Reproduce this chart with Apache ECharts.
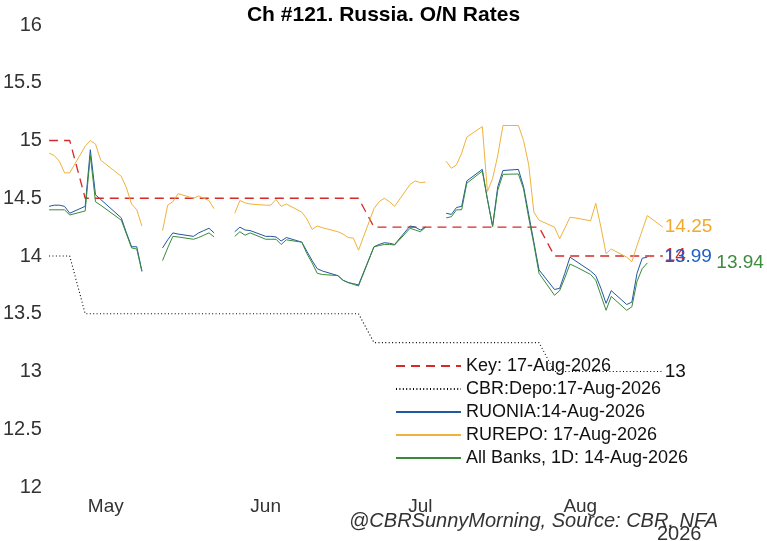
<!DOCTYPE html>
<html>
<head>
<meta charset="utf-8">
<title>Ch #121. Russia. O/N Rates</title>
<script src="https://cdn.jsdelivr.net/npm/echarts@6/dist/echarts.min.js"></script>
<style>
    html, body {margin: 0; padding: 0; background: #fff;}
    #chart {width: 767px; height: 541px;}
</style>
</head>
<body>
<div id="chart"></div>
<script>
// business days shown on the chart
var dates = [
    '2026-04-20', '2026-04-21', '2026-04-22', '2026-04-23', '2026-04-24',
    '2026-04-27', '2026-04-28', '2026-04-29', '2026-04-30',
    '2026-05-04', '2026-05-05', '2026-05-06', '2026-05-07', '2026-05-08',
    '2026-05-11', '2026-05-12', '2026-05-13', '2026-05-14', '2026-05-15',
    '2026-05-18', '2026-05-19', '2026-05-20', '2026-05-21', '2026-05-22',
    '2026-05-25', '2026-05-26', '2026-05-27', '2026-05-28', '2026-05-29',
    '2026-06-01', '2026-06-02', '2026-06-03', '2026-06-04', '2026-06-05',
    '2026-06-08', '2026-06-09', '2026-06-10', '2026-06-11', '2026-06-12',
    '2026-06-15', '2026-06-16', '2026-06-17', '2026-06-18', '2026-06-19',
    '2026-06-22', '2026-06-23', '2026-06-24', '2026-06-25', '2026-06-26',
    '2026-06-29', '2026-06-30',
    '2026-07-01', '2026-07-02', '2026-07-03',
    '2026-07-06', '2026-07-07', '2026-07-08', '2026-07-09', '2026-07-10',
    '2026-07-13', '2026-07-14', '2026-07-15', '2026-07-16', '2026-07-17',
    '2026-07-20', '2026-07-21', '2026-07-22', '2026-07-23', '2026-07-24',
    '2026-07-27', '2026-07-28', '2026-07-29', '2026-07-30', '2026-07-31',
    '2026-08-03', '2026-08-04', '2026-08-05', '2026-08-06', '2026-08-07',
    '2026-08-10', '2026-08-11', '2026-08-12', '2026-08-13', '2026-08-14',
    '2026-08-17'
];

var rurepo = [
    14.89, 14.87, 14.82, 14.72, 14.72, 14.95, 15.00, 14.97, 14.83,
    14.69, 14.59, 14.45, 14.40, 14.26,
    null, 14.22, 14.44, 14.47, 14.54,
    14.50, 14.52, 14.50, 14.48, 14.41,
    null, 14.37, 14.48, 14.46, 14.45,
    14.44, 14.44, 14.49, 14.43, 14.45,
    14.38, 14.32, 14.23, 14.26, 14.245,
    14.21, 14.19, 14.16, 14.155, 14.05,
    14.41, 14.47, 14.50, 14.47, 14.43,
    14.62, 14.65,
    14.635, 14.64, null,
    14.82, 14.76, 14.79, 14.89, 15.03,
    15.12, 14.56, 14.67, 14.87, 15.13,
    15.13, 15.00, 14.79, 14.38, 14.31,
    14.25, 14.15, 14.24, 14.335, 14.33,
    14.305, 14.456, 14.25, 14.02, 14.06,
    13.99, 13.95, 14.09, 14.22, 14.35,
    14.25
];

var ruonia = [
    14.43, 14.44, 14.44, 14.43, 14.37, 14.43, 14.92, 14.53, 14.49,
    14.33, 14.20, 14.08, 14.08, 13.87,
    null, 14.07, 14.14, 14.20, 14.19,
    14.17, 14.20, 14.22, 14.24, 14.20,
    null, 14.21, 14.25, 14.225, 14.22,
    14.17, 14.17, 14.165, 14.13, 14.16,
    14.12, 14.04, 13.96, 13.89, 13.87,
    13.83, 13.79, 13.77, 13.76, 13.75,
    14.08, 14.10, 14.115, 14.11, 14.10,
    14.26, 14.25,
    14.225, 14.25, null,
    14.37, 14.36, 14.42, 14.43, 14.65,
    14.75, 14.49, 14.26, 14.60, 14.74,
    14.75, 14.60, 14.36, 14.12, 13.88,
    13.71, 13.72, 13.85, 13.99, 13.96,
    13.87, 13.83, 13.72, 13.59, 13.70,
    13.58, 13.60, 13.85, 13.98, 13.99
];

var allBanks = [
    14.40, 14.40, 14.40, 14.40, 14.355, 14.39, 14.87, 14.47, 14.44,
    14.31, 14.19, 14.07, 14.06, 13.865,
    null, 13.96, 14.07, 14.17, 14.165,
    14.145, 14.16, 14.18, 14.20, 14.165,
    null, 14.17, 14.21, 14.18, 14.20,
    14.145, 14.145, 14.145, 14.10, 14.14,
    14.12, 14.02, 13.94, 13.85, 13.84,
    13.83, 13.79, 13.77, 13.755, 13.74,
    14.08, 14.09, 14.10, 14.10, 14.095,
    14.24, 14.225,
    14.21, 14.25, null,
    14.33, 14.34, 14.40, 14.40, 14.63,
    14.735, 14.49, 14.254, 14.57, 14.707,
    14.71, 14.58, 14.33, 14.10, 13.85,
    13.66, 13.70, 13.81, 13.93, 13.91,
    13.84, 13.79, 13.66, 13.53, 13.65,
    13.53, 13.56, 13.78, 13.89, 13.94
];

// key rate and deposit rate, at the days where they change
var keyDates = ['2026-04-20', '2026-04-24', '2026-04-27', '2026-06-19', '2026-06-22', '2026-07-24', '2026-07-27', '2026-08-17'];
var keyRate = [15, 15, 14.5, 14.5, 14.25, 14.25, 14, 14];
var depoRate = [14, 14, 13.5, 13.5, 13.25, 13.25, 13, 13];

var monthTicks = ['2026-05-01', '2026-06-01', '2026-07-01', '2026-08-01'];
var monthNames = ['May', 'Jun', 'Jul', 'Aug'];

var seriesNames = ['Key: 17-Aug-2026', 'CBR:Depo:17-Aug-2026', 'RUONIA:14-Aug-2026',
    'RUREPO: 17-Aug-2026', 'All Banks, 1D: 14-Aug-2026'];

function toTime(s) {
    var p = s.split('-');
    return Date.UTC(+p[0], +p[1] - 1, +p[2]);
}

function pairs(ds, vals) {
    return vals.map(function (v, i) {
        return [toTime(ds[i]), v];
    });
}

var FONT = '"Liberation Sans", Arial, sans-serif';
var tickTimes = monthTicks.map(toTime);

function endLabel(color, dx) {
    return {
        show: true,
        color: color,
        fontSize: 19,
        fontFamily: FONT,
        distance: 2,
        offset: [dx, 0],
        formatter: function (p) {
            return String(p.value[1]);
        }
    };
}

var myChart = echarts.init(document.getElementById('chart'));
var option = {
    backgroundColor: '#fff',
    animation: false,
    title: {
        text: 'Ch #121. Russia. O/N Rates',
        left: 'center',
        top: 0,
        textStyle: {fontSize: 21, fontWeight: 'bold', color: '#000', fontFamily: FONT}
    },
    legend: {
        orient: 'vertical',
        left: 390,
        top: 352,
        itemWidth: 65,
        itemHeight: 14,
        itemGap: 5,
        data: seriesNames,
        itemStyle: {opacity: 0},
        textStyle: {fontSize: 18, color: '#111', fontFamily: FONT}
    },
    grid: {left: 42, right: 32, top: 25, bottom: 54},
    xAxis: {
        // day timestamps on a plain value axis, labels at month starts
        type: 'value',
        min: toTime('2026-04-19'),
        max: toTime('2026-08-31'),
        axisLine: {show: false},
        axisTick: {show: false},
        splitLine: {show: false},
        axisLabel: {
            customValues: tickTimes,
            margin: 10,
            fontSize: 19,
            color: '#333',
            fontFamily: FONT,
            formatter: function (val) {
                var i = tickTimes.indexOf(val);
                return i >= 0 ? monthNames[i] : '';
            }
        }
    },
    yAxis: {
        type: 'value',
        min: 12,
        max: 16,
        interval: 0.5,
        axisLine: {show: false},
        axisTick: {show: false},
        splitLine: {show: false},
        axisLabel: {
            margin: 2,
            fontSize: 20,
            color: '#333',
            fontFamily: FONT
        }
    },
    graphic: [
        {
            type: 'text',
            left: 657,
            top: 524,
            style: {text: '2026', fontSize: 20, fill: '#333', fontFamily: FONT}
        },
        {
            type: 'text',
            right: 49,
            top: 511,
            style: {
                text: '@CBRSunnyMorning, Source: CBR, NFA',
                fontSize: 20,
                fontStyle: 'italic',
                fill: '#333',
                fontFamily: FONT
            }
        }
    ],
    series: [
        {
            name: seriesNames[0],
            type: 'line',
            symbol: 'none',
            data: pairs(keyDates, keyRate),
            lineStyle: {color: '#d42a2a', width: 1.3, type: [9, 6]},
            itemStyle: {color: '#d42a2a'},
            endLabel: endLabel('#e0262c', 0)
        },
        {
            name: seriesNames[1],
            type: 'line',
            symbol: 'none',
            data: pairs(keyDates, depoRate),
            lineStyle: {color: '#000', width: 1.1, type: [1, 2.4]},
            itemStyle: {color: '#000'},
            endLabel: endLabel('#111', 0)
        },
        {
            name: seriesNames[2],
            type: 'line',
            symbol: 'none',
            connectNulls: false,
            data: pairs(dates, ruonia),
            lineStyle: {color: '#1f58a3', width: 1},
            itemStyle: {color: '#1f58a3'},
            endLabel: endLabel('#1f5ec4', 15)
        },
        {
            name: seriesNames[3],
            type: 'line',
            symbol: 'none',
            connectNulls: false,
            data: pairs(dates, rurepo),
            lineStyle: {color: '#f0b23c', width: 1},
            itemStyle: {color: '#f0b23c'},
            endLabel: endLabel('#f0aa2c', 0)
        },
        {
            name: seriesNames[4],
            type: 'line',
            symbol: 'none',
            connectNulls: false,
            data: pairs(dates, allBanks),
            lineStyle: {color: '#3a8a3a', width: 1},
            itemStyle: {color: '#3a8a3a'},
            endLabel: endLabel('#3d8b3d', 67)
        }
    ]
};
myChart.setOption(option);
</script>
</body>
</html>
